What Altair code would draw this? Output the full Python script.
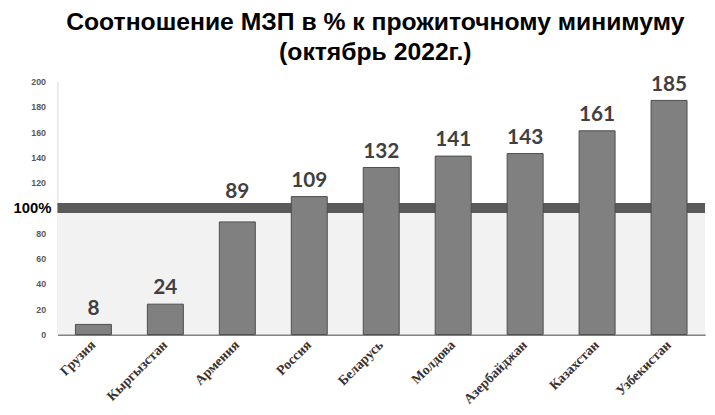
import altair as alt
import pandas as pd

countries = ["Грузия", "Кыргызстан", "Армения", "Россия", "Беларусь",
             "Молдова", "Азербайджан", "Казахстан", "Узбекистан"]
values = [8, 24, 89, 109, 132, 141, 143, 161, 185]
y_ticks = [0, 20, 40, 60, 80, 100, 120, 140, 160, 180, 200]
threshold = 100

W, H = 655, 256

df = pd.DataFrame({"country": countries, "value": values})
band_df = pd.DataFrame({"lo": [0], "hi": [threshold], "lbl": ["100%"]})

yscale = alt.Scale(domain=[0, 200], nice=False, zero=True)
yaxis = alt.Axis(title=None, values=y_ticks, grid=False, ticks=False,
                 labelOverlap=False,
                 labelExpr="datum.value == 100 ? '' : datum.label",
                 labelFont="Liberation Sans", labelFontWeight="bold",
                 labelFontSize=9, labelColor="#595959",
                 labelPadding=12, domainColor="#d9d9d9")
xenc = alt.X("country:N", sort=countries,
             scale=alt.Scale(paddingInner=0.5, paddingOuter=0.25),
             axis=alt.Axis(title=None, labelAngle=-45, labelAlign="right",
                           labelBaseline="middle", labelFont="Liberation Serif",
                           labelFontWeight="bold", labelFontSize=14,
                           labelColor="#333333", labelPadding=8, ticks=False,
                           labelOverlap=False,
                           domainColor="#595959", domainWidth=1.5))

bg = alt.Chart(band_df).mark_rect(color="#f2f2f2").encode(
    x=alt.value(0), x2=alt.value(W),
    y=alt.Y("lo:Q", scale=yscale, axis=yaxis),
    y2="hi:Q",
)

rule = alt.Chart(band_df).mark_rule(color="#5a5a5a", strokeWidth=10).encode(
    x=alt.value(0), x2=alt.value(W), y=alt.Y("hi:Q", scale=yscale, axis=yaxis)
)

pct = alt.Chart(band_df).mark_text(
    align="right", baseline="middle", fontSize=15, fontWeight="bold",
    font="Liberation Sans", color="black"
).encode(x=alt.value(-6), y=alt.Y("hi:Q", scale=yscale, axis=yaxis), text="lbl:N")

bars = alt.Chart(df).mark_bar(color="#808080", stroke="#4d4d4d", strokeWidth=1).encode(
    x=xenc, y=alt.Y("value:Q", scale=yscale, axis=yaxis)
)

label_base = alt.Chart(df).encode(
    x=alt.X("country:N", sort=countries),
    y=alt.Y("value:Q", scale=yscale, axis=yaxis),
    text="value:Q")
label_style = dict(baseline="bottom", fontSize=21, fontWeight="bold",
                   font="Lato", color="#404040")
labels = label_base.mark_text(dy=-6, **label_style).transform_filter(
    "datum.value < 80 || datum.value > 105")
labels_near = label_base.mark_text(dy=-20, **label_style).transform_filter(
    "datum.value >= 80 && datum.value <= 105")

chart = alt.layer(bg, rule, pct, bars, labels, labels_near).properties(
    width=W, height=H,
    autosize=alt.AutoSizeParams(type="none"),
    padding={"left": 50, "top": 72, "right": 2, "bottom": 70},
    title=alt.TitleParams(
        text=["Соотношение МЗП в % к прожиточному минимуму", "(октябрь 2022г.)"],
        fontSize=25, font="Liberation Sans", fontWeight="bold", color="black",
        anchor="middle", frame="group", offset=9, lineHeight=30, dx=-6),
).configure_view(stroke=None).configure_axisY(labelOverlap=False)

chart.save("out.html", embed_options={"renderer": "svg", "actions": False})
